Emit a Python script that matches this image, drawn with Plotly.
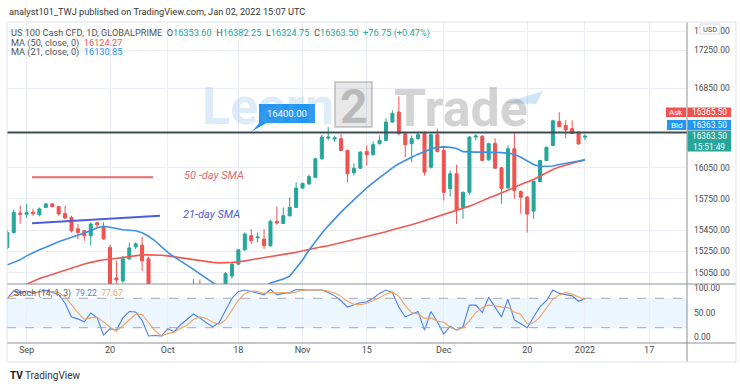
import math
import plotly.graph_objects as go

# ---------------- data ----------------
opens = [15285, 15427, 15612, 15600, 15620, 15596, 15666, 15699, 15673, 15608,
         15570, 15462, 15443, 15396, 15519, 15481, 15285, 15004, 14976, 15180,
         15292, 15308, 15180, 14850, 14770, 14700, 14830, 14570, 14740, 14880,
         14930, 14860, 14780, 14760, 14860, 15022, 15131, 15264, 15396, 15377,
         15365, 15302, 15532, 15512, 15586, 15666, 15852, 15892, 15957, 16139,
         16345, 16335, 16339, 16222, 16001, 16046, 16212, 16179, 16289, 16322,
         16506, 16608, 16389, 16289, 16339, 16389, 16056, 16379, 16222, 15847,
         15991, 15666, 15811, 16355, 16362, 16129, 16292, 16050, 15855, 16239,
         15818, 15765, 15630, 15916, 16122, 16272, 16513, 16473, 16440, 16405,
         16353.60]
highs = [15453, 15644, 15682, 15702, 15654, 15665, 15710, 15708, 15680, 15682,
         15586, 15507, 15450, 15523, 15529, 15523, 15311, 15161, 15208, 15333,
         15333, 15386, 15200, 14900, 14880, 14880, 14860, 14820, 14860, 14994,
         14990, 14930, 14850, 14870, 15059, 15143, 15270, 15427, 15459, 15427,
         15459, 15548, 15673, 15666, 15763, 15908, 15905, 15984, 16150, 16379,
         16455, 16370, 16389, 16230, 16093, 16215, 16271, 16312, 16372, 16544,
         16625, 16767, 16400, 16372, 16395, 16412, 16390, 16440, 16255, 16023,
         16080, 15820, 16365, 16385, 16375, 16300, 16342, 16060, 16271, 16405,
         15830, 15775, 15925, 16130, 16262, 16530, 16605, 16524, 16524, 16412,
         16382.25]
lows = [15270, 15415, 15510, 15567, 15586, 15580, 15660, 15665, 15586, 15554,
        15427, 15365, 15349, 15302, 15472, 15360, 14880, 14950, 14960, 15170,
        15270, 15068, 14840, 14730, 14680, 14600, 14450, 14550, 14600, 14850,
        14840, 14760, 14690, 14720, 14850, 14997, 15125, 15255, 15318, 15333,
        15270, 15295, 15500, 15510, 15576, 15660, 15845, 15885, 15950, 16130,
        16322, 16310, 16215, 15909, 15974, 16040, 16073, 16170, 16280, 16315,
        16500, 16372, 16155, 16106, 16330, 15974, 16043, 16200, 15731, 15770,
        15507, 15557, 15789, 16322, 16115, 16120, 16040, 15702, 15845, 15750,
        15605, 15427, 15557, 15905, 16115, 16265, 16455, 16342, 16385, 16280,
        16324.75]
closes = [15427, 15618, 15600, 15615, 15605, 15651, 15699, 15673, 15603, 15564,
          15443, 15427, 15396, 15507, 15500, 15365, 14920, 14985, 15180, 15282,
          15320, 15161, 14860, 14760, 14690, 14840, 14560, 14760, 14840, 14920,
          14870, 14770, 14730, 14850, 15044, 15131, 15264, 15412, 15349, 15384,
          15302, 15532, 15516, 15586, 15666, 15852, 15898, 15964, 16139, 16355,
          16355, 16348, 16222, 15991, 16046, 16205, 16179, 16279, 16322, 16506,
          16592, 16389, 16279, 16339, 16379, 16007, 16379, 16212, 15811, 15991,
          15644, 15811, 16355, 16365, 16122, 16289, 16046, 15848, 16239, 15828,
          15763, 15602, 15916, 16122, 16252, 16519, 16460, 16427, 16392, 16286.75,
          16363.50]
ma50 = [14866, 14893, 14921, 14948, 14976, 14999, 15017, 15036, 15059, 15078,
        15096, 15115, 15133, 15147, 15161, 15171, 15177, 15185, 15199, 15208,
        15215, 15217, 15217, 15217, 15213, 15208, 15199, 15189, 15180, 15172,
        15166, 15157, 15147, 15143, 15143, 15147, 15152, 15161, 15171, 15180,
        15189, 15199, 15208, 15222, 15231, 15241, 15255, 15264, 15278, 15292,
        15302, 15316, 15330, 15344, 15358, 15372, 15386, 15401, 15415, 15434,
        15453, 15467, 15486, 15500, 15519, 15539, 15558, 15577, 15596, 15615,
        15634, 15659, 15678, 15702, 15731, 15756, 15780, 15804, 15828, 15857,
        15886, 15911, 15935, 15970, 16004, 16033, 16058, 16078, 16098, 16112,
        16124.27]
ma21 = [15124, 15147, 15171, 15208, 15239, 15264, 15288, 15316, 15339, 15361,
        15382, 15401, 15420, 15443, 15472, 15486, 15476, 15464, 15453, 15448,
        15443, 15424, 15391, 15349, 15292, 15241, 15198, 15161, 15124, 15082,
        15041, 14999, 14958, 14921, 14894, 14876, 14867, 14867, 14876, 14894,
        14921, 14958, 14976, 14994, 15020, 15090, 15170, 15260, 15345, 15420,
        15490, 15560, 15620, 15680, 15740, 15800, 15855, 15905, 15955, 16005,
        16050, 16090, 16125, 16155, 16185, 16212, 16237, 16252, 16257, 16252,
        16242, 16210, 16205, 16205, 16205, 16205, 16203, 16200, 16195, 16185,
        16155, 16122, 16083, 16063, 16063, 16068, 16083, 16093, 16102, 16117,
        16130.85]
stoch_k = [80, 95, 92, 95, 90, 93, 97, 92, 88, 70,
           42, 38, 32, 50, 40, 5, 18, 15, 40, 53,
           52, 35, 3, 4, 3, 18, 12, 26, 38, 48,
           40, 30, 22, 30, 55, 80, 94, 97, 94, 90,
           87, 98, 87, 90, 92, 98, 97, 97, 97, 97,
           92, 85, 75, 62, 67, 71, 73, 80, 90, 97,
           92, 62, 42, 48, 53, 15, 53, 32, 7, 23,
           15, 22, 66, 66, 51, 82, 63, 42, 78, 36,
           28, 20, 42, 63, 75, 97, 90, 88, 85, 74,
           79.22]
stoch_d = [82, 85, 89, 94, 92, 93, 93, 94, 92, 83,
           67, 50, 37, 40, 41, 32, 21, 13, 24, 36,
           48, 47, 30, 14, 3, 8, 11, 19, 25, 37,
           42, 39, 31, 27, 36, 55, 76, 90, 95, 94,
           90, 92, 91, 92, 90, 93, 96, 97, 97, 97,
           95, 91, 84, 74, 68, 67, 70, 75, 81, 89,
           93, 84, 65, 51, 48, 39, 40, 33, 31, 21,
           15, 20, 34, 51, 61, 66, 65, 62, 61, 52,
           47, 28, 30, 42, 60, 78, 87, 92, 88, 82,
           77.67]
tick_bars = [3, 16, 25, 36, 46, 56, 68, 81, 90, 100]
tick_labels = ['Sep', '20', 'Oct', '18', 'Nov', '15', 'Dec', '20', '2022', '17']
price_ticks = [17450, 17250, 16850, 16050, 15750, 15450, 15250, 15050]
stoch_ticks = [100, 50, 0]
level_price = 16400
ask_price = 16365.50
bid_price = 16363.50
countdown = '15:51:49'
bars = list(range(len(closes)))

# ---------------- geometry helpers ----------------
W, H = 740, 387
L, R, T, B = 7, 687, 22, 343


def px(x):
    return (x - L) / (R - L)


def py(y):
    return (B - y) / (B - T)


split = py(284)
FONT = 'Roboto'
TEAL = '#26a69a'
RED = '#ef5350'
BLUE = '#2196f3'

fig = go.Figure()
fig.add_trace(go.Candlestick(
    x=bars, open=opens, high=highs, low=lows, close=closes,
    increasing=dict(line=dict(color=TEAL, width=1), fillcolor=TEAL),
    decreasing=dict(line=dict(color=RED, width=1), fillcolor=RED),
    whiskerwidth=0, showlegend=False, hoverinfo='skip', xaxis='x', yaxis='y'))
fig.add_trace(go.Scatter(x=bars, y=ma50, mode='lines', line=dict(color='#ee5a52', width=1.6),
                         showlegend=False, hoverinfo='skip', xaxis='x', yaxis='y'))
fig.add_trace(go.Scatter(x=bars, y=ma21, mode='lines', line=dict(color='#3d8fe3', width=1.6),
                         showlegend=False, hoverinfo='skip', xaxis='x', yaxis='y'))
fig.add_trace(go.Scatter(x=bars, y=stoch_k, mode='lines', line=dict(color='#4f7fe6', width=1.1),
                         showlegend=False, hoverinfo='skip', xaxis='x2', yaxis='y2'))
fig.add_trace(go.Scatter(x=bars, y=stoch_d, mode='lines', line=dict(color='#f5a05a', width=1.1),
                         showlegend=False, hoverinfo='skip', xaxis='x2', yaxis='y2'))

grid = '#eaeef4'
fig.update_layout(
    width=W, height=H, margin=dict(l=L, r=W - R, t=T, b=H - B),
    paper_bgcolor='white', plot_bgcolor='white', showlegend=False,
    boxgap=0.33,
    font=dict(family=FONT, color='#4a4a4a'),
    xaxis=dict(domain=[0, 1], anchor='y', range=[-0.05, 105.9], tickvals=tick_bars,
               showticklabels=False, showgrid=True, gridcolor=grid, zeroline=False,
               rangeslider=dict(visible=False), fixedrange=True),
    xaxis2=dict(domain=[0, 1], anchor='y2', matches='x', range=[-0.05, 105.9],
                tickvals=tick_bars, ticktext=tick_labels, ticks='',
                tickfont=dict(size=9, color='#4a4a4a', family=FONT),
                showgrid=True, gridcolor=grid, zeroline=False),
    yaxis=dict(domain=[split, 1], type='log',
               range=[math.log10(14948), math.log10(17549)], side='right',
               tickvals=price_ticks, ticktext=[f'{v:.2f}' for v in price_ticks], ticks='',
               ticklabelstandoff=6, tickfont=dict(size=8.5, color='#4a4a4a', family=FONT),
               showgrid=True, gridcolor=grid, zeroline=False),
    yaxis2=dict(domain=[0, split], range=[-11.2, 109.2], side='right',
                tickvals=stoch_ticks, ticktext=[f'{v:.2f}' for v in stoch_ticks], ticks='',
                ticklabelstandoff=6, tickfont=dict(size=8.5, color='#4a4a4a', family=FONT),
                showgrid=False, zeroline=False),
)

shapes = []
# stochastic band and levels
shapes.append(dict(type='rect', xref='paper', yref='y2', x0=0, x1=1, y0=20, y1=80,
                   fillcolor='rgba(33,150,243,0.09)', line=dict(width=0), layer='below'))
for lv in (20, 80):
    shapes.append(dict(type='line', xref='paper', yref='y2', x0=0, x1=1, y0=lv, y1=lv,
                       line=dict(color='#a3a8b0', width=1, dash='dash')))
# horizontal level line
shapes.append(dict(type='line', xref='paper', yref='y', x0=0, x1=1, y0=level_price, y1=level_price,
                   line=dict(color='#3b4d52', width=2)))
# frame lines
frame = '#8c8f96'
shapes.append(dict(type='line', xref='paper', yref='paper', x0=px(7), x1=px(736), y0=py(284), y1=py(284),
                   line=dict(color=frame, width=1)))
shapes.append(dict(type='line', xref='paper', yref='paper', x0=px(7), x1=px(736), y0=py(343), y1=py(343),
                   line=dict(color=frame, width=1)))
shapes.append(dict(type='line', xref='paper', yref='paper', x0=px(687), x1=px(687), y0=py(22), y1=py(362),
                   line=dict(color=frame, width=1)))
shapes.append(dict(type='rect', xref='paper', yref='paper', x0=px(7), x1=px(736), y0=py(22), y1=py(362),
                   line=dict(color='#dfe2e8', width=1)))
# SMA drawing strokes
shapes.append(dict(type='line', xref='paper', yref='paper', x0=px(32), x1=px(153), y0=py(177.3), y1=py(177.3),
                   line=dict(color='#e26a6a', width=2)))
shapes.append(dict(type='line', xref='paper', yref='paper', x0=px(32), x1=px(160), y0=py(223.3), y1=py(215.7),
                   line=dict(color='#4a5fd6', width=2)))
# 16400 callout
shapes.append(dict(type='rect', xref='paper', yref='paper', x0=px(259), x1=px(315), y0=py(123), y1=py(104),
                   fillcolor=BLUE, line=dict(width=0)))
shapes.append(dict(type='path', xref='paper', yref='paper',
                   path=f'M {px(260)},{py(122)} L {px(252)},{py(131.5)} L {px(268)},{py(122)} Z',
                   fillcolor=BLUE, line=dict(width=0)))
# price-scale boxes
boxes = [((666, 686, 107.5, 117), RED), ((687.5, 731, 107.5, 117), RED),
         ((667, 686, 120, 130), BLUE), ((687.5, 731, 120, 130), BLUE),
         ((687.5, 731, 130.5, 151.5), TEAL)]
for (x0, x1, y0, y1), c in boxes:
    shapes.append(dict(type='rect', xref='paper', yref='paper', x0=px(x0), x1=px(x1), y0=py(y1), y1=py(y0),
                       fillcolor=c, line=dict(width=0)))
# USD badge
shapes.append(dict(type='rect', xref='paper', yref='paper', x0=px(700), x1=px(720), y0=py(34), y1=py(24),
                   fillcolor='white', line=dict(color='#d5d8de', width=1)))
# watermark "2" box and arrow
shapes.append(dict(type='rect', xref='paper', yref='paper', x0=px(335), x1=px(372), y0=py(127), y1=py(82),
                   fillcolor='rgba(150,150,150,0.22)', line=dict(color='rgba(130,130,130,0.35)', width=2)))
shapes.append(dict(type='path', xref='paper', yref='paper',
                   path=f'M {px(505)},{py(103)} L {px(543)},{py(91)} L {px(536)},{py(104)} Z',
                   fillcolor='rgba(100,170,225,0.30)', line=dict(width=0)))
fig.update_layout(shapes=shapes)

ann = []


def text(x, y, s, size, color='#4a4a4a', anchor='left'):
    ann.append(dict(xref='paper', yref='paper', x=px(x), y=py(y), text=s, showarrow=False,
                    xanchor=anchor, yanchor='middle', font=dict(size=size, color=color, family=FONT)))


# watermark
text(268, 106, '<b>Learn</b>', 52, 'rgba(100,170,225,0.22)', anchor='center')
text(353.5, 106, '<b>2</b>', 48, 'rgba(110,110,110,0.40)', anchor='center')
text(461, 108, '<b>Trade</b>', 52, 'rgba(120,120,120,0.33)', anchor='center')

text(7, 11, 'analyst101_TWJ published on TradingView.com, Jan 02, 2022 15:07 UTC', 9.2, '#333333')
chg = closes[-1] - closes[-2]
pct = chg / closes[-2] * 100
nb = '&nbsp;&nbsp;'


def tv(v):
    return f"<span style='color:{TEAL}'>{v:.2f}</span>"


row1 = (f"US 100 Cash CFD, 1D, GLOBALPRIME{nb}O{tv(opens[-1])}{nb}H{tv(highs[-1])}{nb}"
        f"L{tv(lows[-1])}{nb}C{tv(closes[-1])}{nb}<span style='color:{TEAL}'>{chg:+.2f} ({pct:+.2f}%)</span>")
text(9, 33, row1, 9.2, '#555555')
text(9, 42.7, f"MA (50, close, 0){nb}<span style='color:{RED}'>{ma50[-1]:.2f}</span>", 9.2, '#555555')
text(9, 52.3, f"MA (21, close, 0){nb}<span style='color:{BLUE}'>{ma21[-1]:.2f}</span>", 9.2, '#555555')
text(12, 293.3, f"Stoch (14, 1, 3){nb}<span style='color:#4f7fe6'>{stoch_k[-1]:.2f}</span>{nb}"
     f"<span style='color:#f5a05a'>{stoch_d[-1]:.2f}</span>", 8.6, '#555555')

text(214, 175, '<i>50 -day SMA</i>', 11, '#e26a6a', anchor='center')
text(211, 214, '<i>21-day SMA</i>', 11, '#4a5fd6', anchor='center')
text(287, 113.5, f'{level_price:.2f}', 9.5, 'white', anchor='center')

text(676, 112.3, 'Ask', 8, 'white', anchor='center')
text(709.3, 112.3, f'{ask_price:.2f}', 8.3, 'white', anchor='center')
text(676.5, 125, 'Bid', 8, 'white', anchor='center')
text(709.3, 125, f'{bid_price:.2f}', 8.3, 'white', anchor='center')
text(709.3, 136, f'{closes[-1]:.2f}', 8.3, 'white', anchor='center')
text(709.3, 146.5, countdown, 8.3, 'white', anchor='center')
text(710, 29, 'USD', 7.5, '#555555', anchor='center')

text(8, 375, '<b>TV</b>', 10, '#131722')
text(23, 375, 'TradingView', 10, '#333333')
fig.update_layout(annotations=ann)

fig.write_html('out.html', config={'displayModeBar': False},
               post_script="document.body.style.margin='0';document.body.style.overflow='hidden';")
